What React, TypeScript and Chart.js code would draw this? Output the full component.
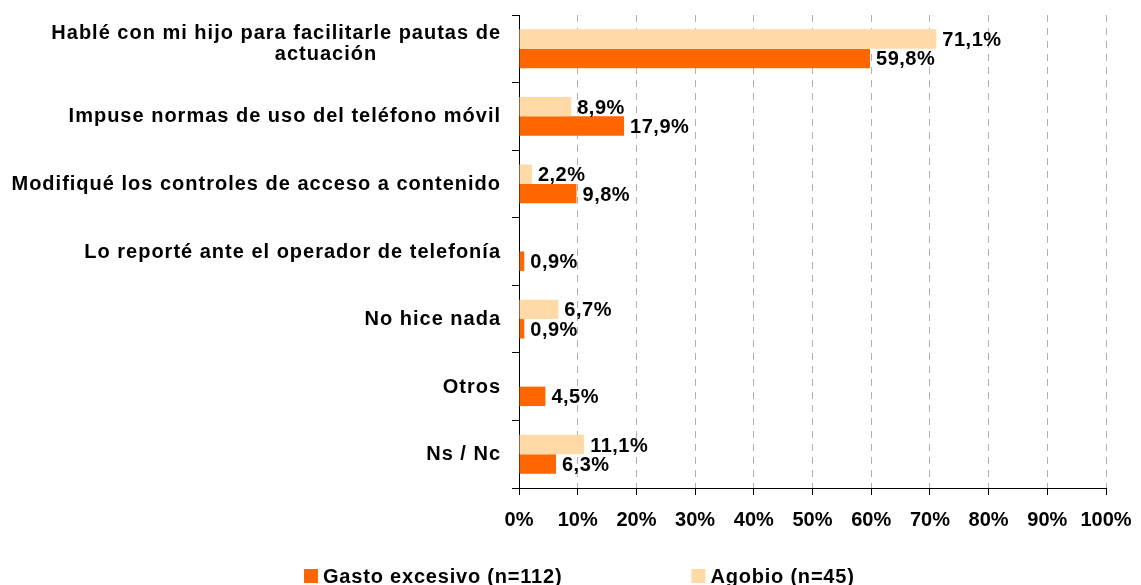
import React, { useEffect, useRef } from "react";
import { Chart, registerables } from "chart.js";

Chart.register(...registerables);

// ---- data ----
const categories: string[][] = [
  ["Hablé con mi hijo para facilitarle pautas de", "actuación"],
  ["Impuse normas de uso del teléfono móvil"],
  ["Modifiqué los controles de acceso a contenido"],
  ["Lo reporté ante el operador de telefonía"],
  ["No hice nada"],
  ["Otros"],
  ["Ns / Nc"],
];
const agobioValues = [71.1, 8.9, 2.2, 0, 6.7, 0, 11.1];
const gastoValues = [59.8, 17.9, 9.8, 0.9, 0.9, 4.5, 6.3];
const seriesNames = ["Agobio (n=45)", "Gasto excesivo (n=112)"];
const legendOrder = [1, 0];
const xTickSuffix = "%";

// ---- style ----
const FONT = '"Liberation Sans", Arial, sans-serif';
const ORANGE = "#FF6600";
const PEACH = "#FFDAA6";

const fmt = (v: number) => v.toFixed(1).replace(".", ",") + "%";

const yLabelPlugin = {
  id: "yLabelsCustom",
  afterDraw(chart: any) {
    const ctx = chart.ctx;
    const y = chart.scales.y;
    ctx.save();
    ctx.font = `bold 20px ${FONT}`;
    ctx.fillStyle = "#000";
    ctx.letterSpacing = "1px";
    ctx.textBaseline = "alphabetic";
    const right = y.right - 18;
    (chart.data.labels as any[]).forEach((lab, i) => {
      const lines: string[] = Array.isArray(lab) ? lab : [lab];
      const cy = y.getPixelForValue(i);
      const n = lines.length;
      lines.forEach((line, j) => {
        const base = cy + 6 + (j - (n - 1) / 2) * 21 - (n > 1 ? 5 : 0);
        if (j === 0) {
          ctx.textAlign = "right";
          ctx.fillText(line, right, base);
        } else {
          ctx.textAlign = "center";
          ctx.fillText(line, right - 175, base);
        }
      });
    });
    ctx.restore();
  },
};

const dataLabelPlugin = {
  id: "dataLabelsCustom",
  afterDatasetsDraw(chart: any) {
    const ctx = chart.ctx;
    ctx.save();
    ctx.font = `bold 20px ${FONT}`;
    ctx.fillStyle = "#000";
    ctx.letterSpacing = "0.5px";
    ctx.textAlign = "left";
    ctx.textBaseline = "alphabetic";
    chart.data.datasets.forEach((ds: any, di: number) => {
      const meta = chart.getDatasetMeta(di);
      meta.data.forEach((el: any, i: number) => {
        const v = ds.data[i];
        if (!v) return;
        ctx.fillText(fmt(v), el.x + 6, el.y + 7);
      });
    });
    ctx.restore();
  },
};

const legendPlugin = {
  id: "legendCustom",
  afterDraw(chart: any) {
    const ctx = chart.ctx;
    ctx.save();
    ctx.font = `bold 20px ${FONT}`;
    ctx.letterSpacing = "0.8px";
    ctx.textAlign = "left";
    ctx.textBaseline = "alphabetic";
    let x = 304;
    const yc = 576;
    legendOrder.forEach((di) => {
      const ds = chart.data.datasets[di];
      ctx.fillStyle = ds.backgroundColor;
      ctx.fillRect(x, yc - 7, 14, 14);
      ctx.fillStyle = "#000";
      const tx = x + 19;
      ctx.fillText(ds.label, tx, yc + 7);
      const w = ctx.measureText(ds.label).width;
      x = tx + w + 129;
    });
    ctx.restore();
  },
};

export default function App() {
  const ref = useRef<HTMLCanvasElement | null>(null);

  useEffect(() => {
    if (!ref.current) return;
    const chart = new Chart(ref.current, {
      type: "bar",
      data: {
        labels: categories as any,
        datasets: [
          {
            label: seriesNames[0],
            data: agobioValues,
            backgroundColor: PEACH,
            borderWidth: 0,
            categoryPercentage: 0.575,
            barPercentage: 1,
          },
          {
            label: seriesNames[1],
            data: gastoValues,
            backgroundColor: ORANGE,
            borderWidth: 0,
            categoryPercentage: 0.575,
            barPercentage: 1,
          },
        ],
      },
      options: {
        indexAxis: "y",
        animation: false,
        responsive: false,
        maintainAspectRatio: false,
        layout: { padding: { top: 15, right: 35, left: 0, bottom: 0 } },
        plugins: {
          legend: { display: false },
          tooltip: { enabled: false },
        },
        scales: {
          x: {
            min: 0,
            max: 100,
            ticks: {
              stepSize: 10,
              callback: (v: any) => v + xTickSuffix,
              font: { family: FONT, size: 20, weight: "bold" },
              color: "#000",
              padding: 13,
              maxRotation: 0,
            },
            grid: {
              color: "#b0b0b0",
              tickColor: "#000",
              tickLength: 7,
              drawTicks: true,
            },
            border: { color: "#000", width: 1, dash: [7, 6] },
            afterFit: (s: any) => {
              s.height = 97;
              s.paddingLeft = 0;
              s.paddingRight = 0;
            },
          },
          y: {
            ticks: { display: false },
            grid: {
              drawOnChartArea: false,
              drawTicks: true,
              tickLength: 7,
              color: "#000",
              tickColor: "#000",
              offset: true,
            },
            border: { color: "#000", width: 1 },
            afterFit: (s: any) => {
              s.width = 519;
              s.paddingTop = 0;
              s.paddingBottom = 0;
            },
          },
        },
      },
      plugins: [yLabelPlugin, dataLabelPlugin, legendPlugin],
    } as any);
    return () => chart.destroy();
  }, []);

  return (
    <div style={{ position: "fixed", left: 0, top: 0, width: 1141, height: 585, background: "#fff" }}>
      <canvas ref={ref} width={1141} height={585} style={{ display: "block" }} />
    </div>
  );
}
